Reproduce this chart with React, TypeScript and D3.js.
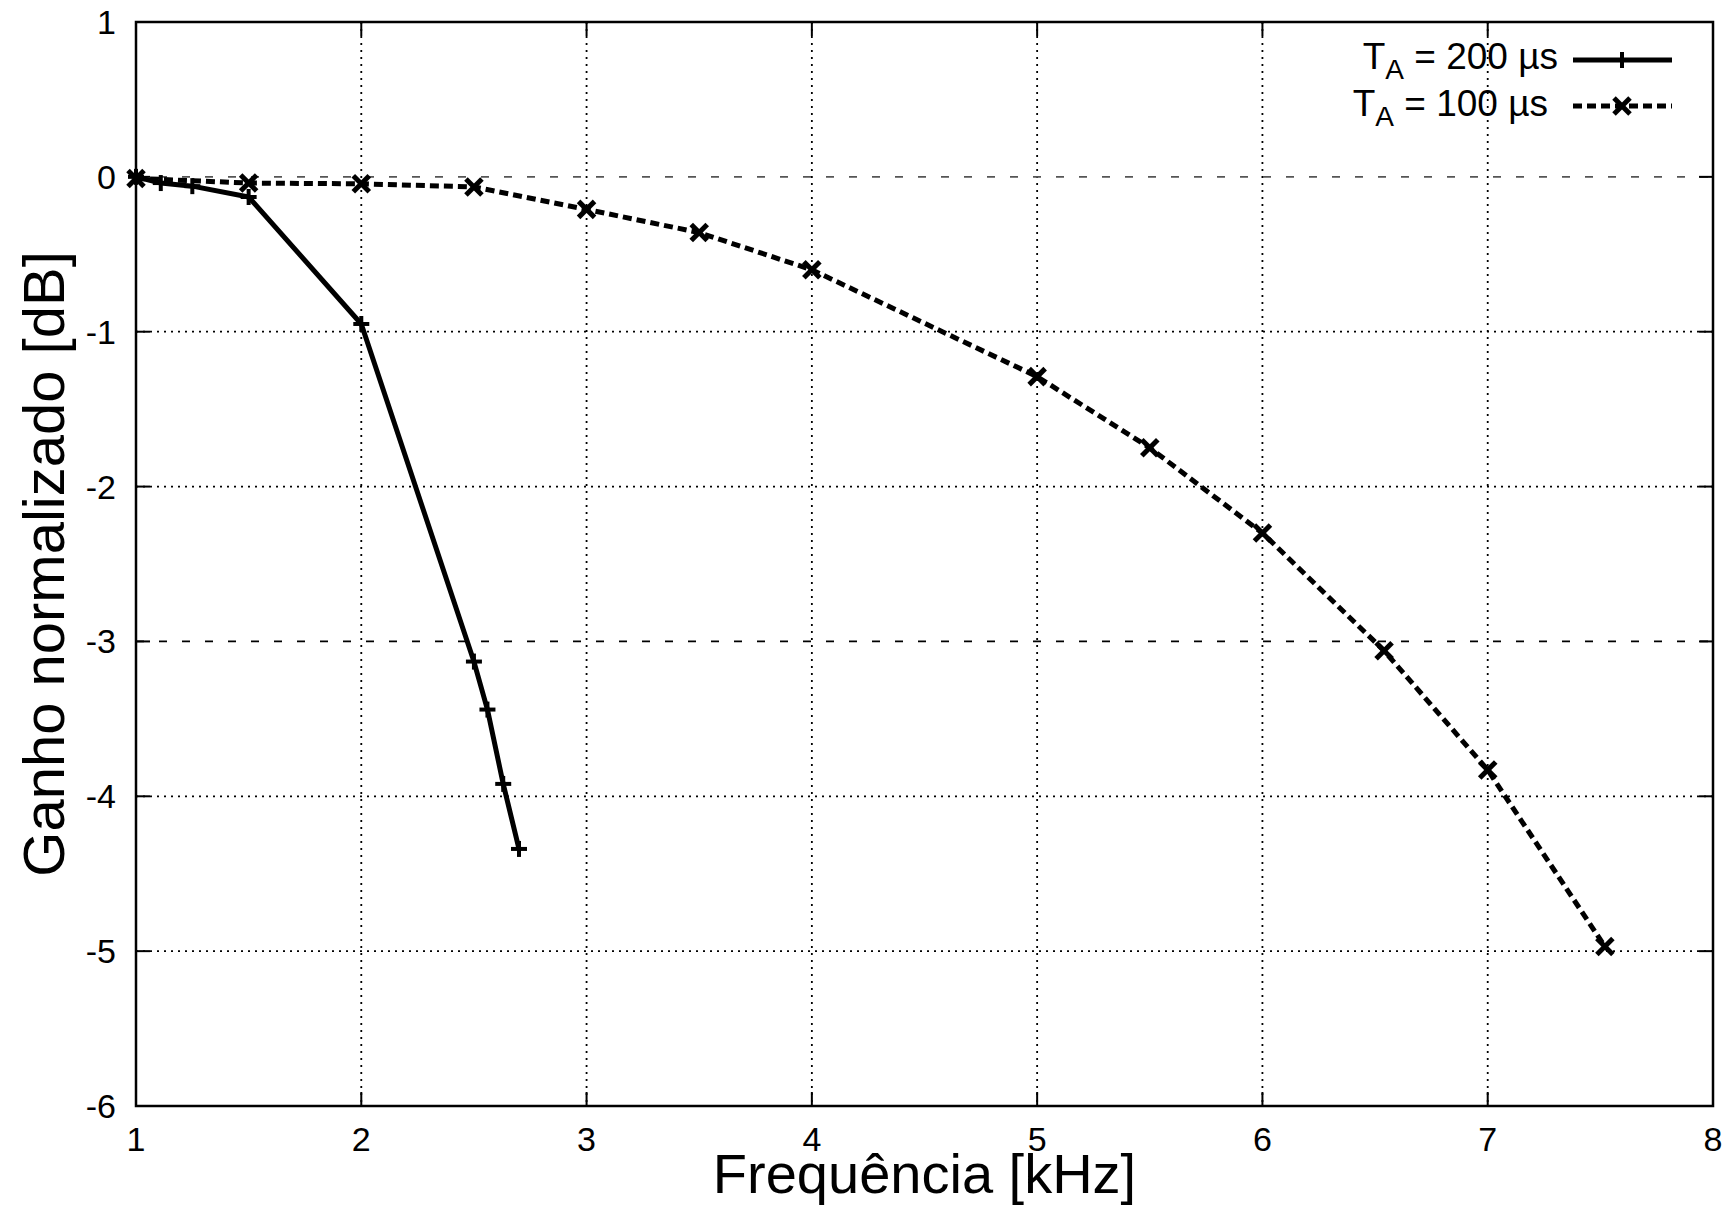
import React from "react";
import * as d3 from "d3";

const xTicks = [1, 2, 3, 4, 5, 6, 7, 8];
const yTicks = [1, 0, -1, -2, -3, -4, -5, -6];
const refLines = [0, -3];

const freq200 = [1, 1.11, 1.25, 1.5, 2, 2.5, 2.56, 2.63, 2.7];
const gain200 = [0, -0.04, -0.06, -0.13, -0.95, -3.13, -3.44, -3.92, -4.34];

const freq100 = [1, 1.5, 2, 2.5, 3, 3.5, 4, 5, 5.5, 6, 6.54, 7, 7.52];
const gain100 = [-0.01, -0.04, -0.045, -0.065, -0.21, -0.36, -0.6, -1.29, -1.75, -2.3, -3.06, -3.83, -4.97];

const W = 1736;
const H = 1229;
const L = 136, R = 1713, T = 22, B = 1106;
const FONT = "'Liberation Sans', Arial, Helvetica, sans-serif";

export default function App() {
  const x = d3.scaleLinear().domain([1, 8]).range([L, R]);
  const y = d3.scaleLinear().domain([-6, 1]).range([B, T]);
  const line = d3.line<[number, number]>().x((d) => x(d[0])).y((d) => y(d[1]));
  const s200: [number, number][] = freq200.map((f, i) => [f, gain200[i]]);
  const s100: [number, number][] = freq100.map((f, i) => [f, gain100[i]]);
  const tickLen = 14;
  const m = 8;

  const plus = (cx: number, cy: number, k: string) => (
    <g key={k} stroke="#000" strokeWidth={4}>
      <line x1={cx - m} x2={cx + m} y1={cy} y2={cy} />
      <line x1={cx} x2={cx} y1={cy - m} y2={cy + m} />
    </g>
  );
  const cross = (cx: number, cy: number, k: string) => (
    <g key={k} stroke="#000" strokeWidth={5}>
      <line x1={cx - m} x2={cx + m} y1={cy - m} y2={cy + m} />
      <line x1={cx - m} x2={cx + m} y1={cy + m} y2={cy - m} />
    </g>
  );

  return (
    <svg width={W} height={H} style={{ position: "absolute", left: 0, top: 0, background: "#fff" }} fontFamily={FONT}>
      <rect x={0} y={0} width={W} height={H} fill="#fff" />
      {/* grid */}
      <g stroke="#000" strokeWidth={1.8} strokeDasharray="2,5">
        {xTicks.slice(1, -1).map((t) => (
          <line key={"gx" + t} x1={x(t)} x2={x(t)} y1={T} y2={B} />
        ))}
        {yTicks.slice(1, -1).filter((t) => !refLines.includes(t)).map((t) => (
          <line key={"gy" + t} x1={L} x2={R} y1={y(t)} y2={y(t)} />
        ))}
      </g>
      {/* reference dashed lines */}
      <g strokeWidth={1.8} strokeDasharray="8,15">
        {refLines.map((t, i) => (
          <line key={"r" + t} x1={L} x2={R} y1={y(t)} y2={y(t)} stroke={i === 0 ? "#555" : "#000"} />
        ))}
      </g>
      {/* ticks */}
      <g stroke="#000" strokeWidth={2}>
        {xTicks.map((t) => (
          <g key={"tx" + t}>
            <line x1={x(t)} x2={x(t)} y1={B} y2={B - tickLen} />
            <line x1={x(t)} x2={x(t)} y1={T} y2={T + tickLen} />
          </g>
        ))}
        {yTicks.map((t) => (
          <g key={"ty" + t}>
            <line x1={L} x2={L + tickLen} y1={y(t)} y2={y(t)} />
            <line x1={R} x2={R - tickLen} y1={y(t)} y2={y(t)} />
          </g>
        ))}
      </g>
      {/* border */}
      <rect x={L} y={T} width={R - L} height={B - T} fill="none" stroke="#000" strokeWidth={2.5} />
      {/* tick labels */}
      <g fontSize={34} fill="#000">
        {xTicks.map((t) => (
          <text key={"lx" + t} x={x(t)} y={B + 45} textAnchor="middle">{t}</text>
        ))}
        {yTicks.map((t) => (
          <text key={"ly" + t} x={L - 20} y={y(t) + 12} textAnchor="end">{t}</text>
        ))}
      </g>
      {/* axis titles */}
      <text x={(L + R) / 2} y={1193} textAnchor="middle" fontSize={56}>Frequência [kHz]</text>
      <text transform={`translate(64, ${(T + B) / 2}) rotate(-90)`} textAnchor="middle" fontSize={58}>Ganho normalizado [dB]</text>
      {/* series */}
      <path d={line(s200) || ""} fill="none" stroke="#000" strokeWidth={5} strokeLinejoin="round" />
      {s200.map((d, i) => plus(x(d[0]), y(d[1]), "p" + i))}
      <path d={line(s100) || ""} fill="none" stroke="#000" strokeWidth={5} strokeDasharray="9,5" />
      {s100.map((d, i) => cross(x(d[0]), y(d[1]), "c" + i))}
      {/* legend */}
      <g fontSize={37} fill="#000">
        <text x={1558} y={69} textAnchor="end">
          T<tspan fontSize={28} dy={10}>A</tspan><tspan dy={-10}> = 200 µs</tspan>
        </text>
        <text x={1548} y={116} textAnchor="end">
          T<tspan fontSize={28} dy={10}>A</tspan><tspan dy={-10}> = 100 µs</tspan>
        </text>
      </g>
      <line x1={1573} x2={1672} y1={60} y2={60} stroke="#000" strokeWidth={5} />
      {plus(1622, 60, "lp")}
      <line x1={1573} x2={1672} y1={106} y2={106} stroke="#000" strokeWidth={5} strokeDasharray="9,5" />
      {cross(1622, 106, "lc")}
    </svg>
  );
}
